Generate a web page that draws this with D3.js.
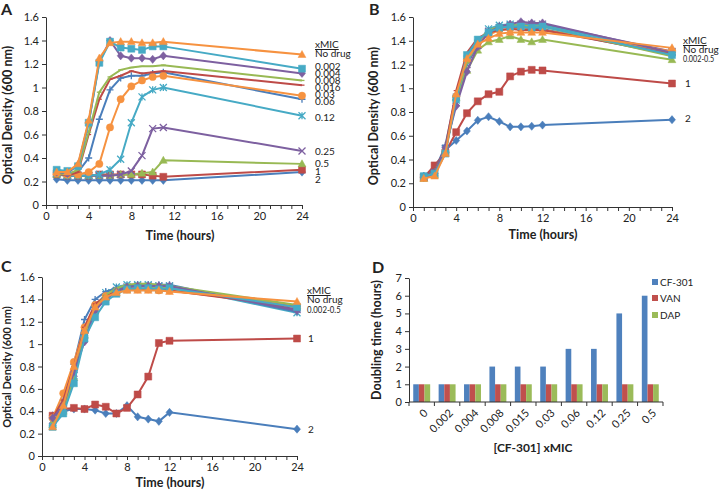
<!DOCTYPE html>
<html><head><meta charset="utf-8">
<script src="https://cdn.jsdelivr.net/npm/d3@7"></script>
<style>
body{margin:0;background:#fff}
svg{display:block}
text{font-family:Lato,"Open Sans",sans-serif;fill:#222}
</style>
</head><body>
<svg id="c" width="720" height="490"></svg>
<script>
// ---------------- DATA ----------------
const seriesLabels = ["No drug","0.002","0.004","0.008","0.016","0.03","0.06","0.12","0.25","0.5","1","2"];
const timesA = [1,2,3,4,5,6,7,8,9,10,11,24];
const timesBC = [1,2,3,4,5,6,7,8,9,10,11,12,24];
const xTickValues = [0,4,8,12,16,20,24];
const odTickValues = [0,0.2,0.4,0.6,0.8,1,1.2,1.4,1.6];

// Panel A: optical density per series (same order as seriesLabels)
const odA = [
  [0.28,0.28,0.35,0.72,1.25,1.38,1.39,1.39,1.38,1.38,1.39,1.28],
  [0.30,0.29,0.33,0.70,1.21,1.39,1.34,1.33,1.32,1.35,1.35,1.16],
  [0.28,0.27,0.34,0.70,1.22,1.40,1.27,1.25,1.25,1.24,1.27,1.12],
  [0.27,0.26,0.30,0.62,0.96,1.09,1.15,1.17,1.18,1.18,1.19,1.06],
  [0.27,0.25,0.28,0.60,0.90,1.07,1.10,1.14,1.12,1.13,1.14,1.02],
  [0.27,0.26,0.26,0.28,0.35,0.66,0.90,1.01,1.06,1.09,1.10,0.93],
  [0.27,0.26,0.28,0.40,0.73,0.98,1.08,1.10,1.10,1.12,1.13,0.90],
  [0.27,0.25,0.25,0.25,0.26,0.30,0.39,0.70,0.92,0.98,1.00,0.76],
  [0.27,0.25,0.25,0.25,0.25,0.25,0.26,0.29,0.42,0.65,0.66,0.46],
  [0.26,0.25,0.25,0.25,0.25,0.25,0.26,0.26,0.27,0.28,0.38,0.35],
  [0.26,0.25,0.25,0.25,0.26,0.26,0.26,0.26,0.26,0.25,0.24,0.30],
  [0.22,0.21,0.21,0.21,0.21,0.21,0.21,0.21,0.21,0.21,0.21,0.28]
];
// Panel B
const odB = [
  [0.24,0.26,0.45,0.95,1.25,1.37,1.42,1.46,1.47,1.47,1.47,1.47,1.34],
  [0.26,0.28,0.45,0.91,1.28,1.41,1.47,1.51,1.52,1.52,1.51,1.52,1.28],
  [0.25,0.28,0.50,0.85,1.14,1.35,1.47,1.52,1.54,1.56,1.55,1.55,1.30],
  [0.25,0.29,0.48,0.90,1.22,1.39,1.49,1.52,1.53,1.53,1.52,1.52,1.27],
  [0.25,0.30,0.50,0.98,1.30,1.42,1.47,1.49,1.50,1.49,1.49,1.49,1.29],
  [0.25,0.28,0.46,0.93,1.24,1.38,1.45,1.49,1.50,1.50,1.49,1.49,1.31],
  [0.26,0.30,0.52,0.95,1.27,1.40,1.48,1.51,1.52,1.51,1.50,1.50,1.28],
  [0.25,0.28,0.48,0.90,1.22,1.38,1.50,1.53,1.54,1.53,1.53,1.53,1.30],
  [0.25,0.29,0.49,0.88,1.20,1.36,1.48,1.51,1.53,1.54,1.54,1.54,1.31],
  [0.24,0.27,0.48,0.92,1.15,1.32,1.39,1.41,1.44,1.41,1.39,1.41,1.24],
  [0.25,0.35,0.46,0.63,0.79,0.89,0.95,0.97,1.10,1.14,1.155,1.15,1.04],
  [0.26,0.32,0.48,0.56,0.64,0.73,0.76,0.72,0.675,0.675,0.68,0.69,0.735]
];
// Panel C
const odC = [
  [0.26,0.45,0.80,1.12,1.33,1.42,1.46,1.48,1.48,1.48,1.48,1.47,1.38],
  [0.26,0.38,0.65,1.05,1.24,1.38,1.45,1.49,1.50,1.50,1.49,1.50,1.33],
  [0.34,0.45,0.75,1.02,1.30,1.40,1.47,1.51,1.52,1.52,1.52,1.52,1.30],
  [0.30,0.42,0.70,1.10,1.32,1.44,1.50,1.53,1.54,1.54,1.53,1.52,1.35],
  [0.34,0.50,0.80,1.15,1.36,1.43,1.47,1.49,1.50,1.49,1.49,1.48,1.33],
  [0.34,0.56,0.84,1.15,1.35,1.43,1.47,1.49,1.49,1.49,1.48,1.48,1.34],
  [0.34,0.50,0.82,1.22,1.40,1.47,1.50,1.52,1.53,1.53,1.53,1.53,1.29],
  [0.30,0.42,0.72,1.10,1.32,1.46,1.51,1.53,1.53,1.53,1.52,1.52,1.28],
  [0.32,0.44,0.74,1.08,1.30,1.42,1.48,1.51,1.52,1.52,1.52,1.52,1.31],
  [0.28,0.40,0.70,1.08,1.30,1.42,1.48,1.51,1.52,1.51,1.51,1.50,1.34],
  [0.36,0.42,0.43,0.42,0.46,0.44,0.38,0.43,0.55,0.71,1.01,1.03,1.05],
  [0.36,0.40,0.42,0.42,0.41,0.38,0.38,0.45,0.35,0.33,0.31,0.39,0.24]
];
// Panel D
const doublingCats = ["0","0.002","0.004","0.008","0.015","0.03","0.06","0.12","0.25","0.5"];
const barSeries = ["CF-301","VAN","DAP"];
const cf301 = [1,1,1,2,2,2,3,3,5,6];
const van = [1,1,1,1,1,1,1,1,1,1];
const dap = [1,1,1,1,1,1,1,1,1,1];
const doublingTicks = [0,1,2,3,4,5,6,7];

// ---------------- STYLE ----------------
const C = {blue:"#4A7EBB",red:"#BE4B48",green:"#98B954",purple:"#7D60A0",aqua:"#46AAC5",orange:"#F69240"};
const seriesColor = [C.orange,C.aqua,C.purple,C.green,C.red,C.orange,C.blue,C.aqua,C.purple,C.green,C.red,C.blue];
const seriesMarker = ["triangle","square","diamond","dash","dash","circle","plus","asterisk","x","triangle","square","diamond"];
const drawOrder = [11,10,9,8,7,6,5,4,3,2,1,0];
const tickFont = "11px", legendFont = "10px";

const svg = d3.select("#c");

function markerPath(t){
  const r=3.5;
  switch(t){
    case "triangle": return `M0,${-r-0.6}L${r+0.4},${r-0.6}L${-r-0.4},${r-0.6}Z`;
    case "square": return `M${-r},${-r}H${r}V${r}H${-r}Z`;
    case "diamond": return `M0,${-r-0.6}L${r},0L0,${r+0.6}L${-r},0Z`;
    case "circle": return d3.symbol(d3.symbolCircle,42)();
    case "plus": return `M${-r},0H${r}M0,${-r}V${r}`;
    case "x": return `M${-r},${-r}L${r},${r}M${-r},${r}L${r},${-r}`;
    case "asterisk": return `M${-r},${-r}L${r},${r}M${-r},${r}L${r},${-r}M0,${-r}V${r}`;
    case "dash": return `M-2.5,0H2.5`;
  }
}
const filled = t => ["triangle","square","diamond","circle"].includes(t);

function linePanel(o){
  const g = svg.append("g");
  const x = d3.scaleLinear().domain([0,24]).range([o.x0,o.x1]);
  const y = d3.scaleLinear().domain([0,1.6]).range([o.y0,o.y1]);
  const xa = g.append("g").attr("transform",`translate(0,${o.y0})`)
    .call(d3.axisBottom(x).tickValues(d3.range(0,25)).tickSize(4).tickSizeOuter(0)
      .tickFormat(d => xTickValues.includes(d) ? d : ""));
  const ya = g.append("g").attr("transform",`translate(${o.x0},0)`)
    .call(d3.axisLeft(y).tickValues(odTickValues).tickSize(4).tickSizeOuter(0)
      .tickFormat(d => String(+d.toFixed(1))));
  [xa,ya].forEach(a=>{
    a.selectAll("path,line").attr("stroke","#333");
    a.selectAll("text").style("font-size",tickFont).attr("fill","#222");
  });
  const line = d3.line().x((d,i)=>x(o.times[i])).y(d=>y(d));
  drawOrder.forEach(si=>{
    const vals=o.data[si], col=seriesColor[si], mk=seriesMarker[si];
    g.append("path").attr("d",line(vals)).attr("fill","none").attr("stroke",col).attr("stroke-width",2);
    g.selectAll(null).data(vals).enter().append("path")
      .attr("transform",(d,i)=>`translate(${x(o.times[i])},${y(d)})`)
      .attr("d",markerPath(mk))
      .attr("fill",filled(mk)?col:"none")
      .attr("stroke",col).attr("stroke-width",filled(mk)?0.5:1.3);
  });
  // titles
  g.append("text").attr("x",o.xtx).attr("y",o.xty).attr("text-anchor","middle")
    .style("font-weight","bold").style("font-size","12.5px").text("Time (hours)");
  g.append("text").attr("transform",`translate(${o.ytx},${o.yty}) rotate(-90)`).attr("text-anchor","middle")
    .style("font-weight","bold").style("font-size",o.ytfs).text("Optical Density (600 nm)");
  g.append("text").attr("x",o.lx).attr("y",o.ly).style("font-weight","bold").style("font-size","16px").text(o.letter);
  // legend labels (optional horizontal squeeze factor l[4])
  o.legend.forEach(l=>{
    const sx = l[4] || 1;
    const t=g.append("text").attr("transform",`translate(${l[0]},${l[1]}) scale(${sx},1)`)
      .style("font-size",legendFont).text(l[2]);
    if(l[3]) t.style("text-decoration","underline");
  });
}

linePanel({x0:46,x1:302,y0:205,y1:17,times:timesA,data:odA,
  xtx:180,xty:240,ytx:12,yty:115,ytfs:"12.5px",lx:1,ly:15,letter:"A",
  legend:[[315,48,"xMIC",true],[315,57,"No drug"],[315,70,seriesLabels[1]],[315,77,seriesLabels[2]],
    [315,84,seriesLabels[3]],[315,91,seriesLabels[4]],[315,98,seriesLabels[5]],[315,105,seriesLabels[6]],
    [315,121,seriesLabels[7]],[315,155,seriesLabels[8]],[315,167,seriesLabels[9]],[315,175,seriesLabels[10]],
    [315,183,seriesLabels[11]]]});
linePanel({x0:413,x1:672,y0:207,y1:17,times:timesBC,data:odB,
  xtx:543,xty:239,ytx:378,yty:116,ytfs:"12.5px",lx:369,ly:15,letter:"B",
  legend:[[683,44,"xMIC",true],[683,53,"No drug"],[683,62,"0.002-0.5",false,0.72],[685,87,"1"],[685,122,"2"]]});
linePanel({x0:42,x1:297,y0:456,y1:277,times:timesBC,data:odC,
  xtx:170,xty:487,ytx:11,yty:367,ytfs:"11px",lx:1,ly:272,letter:"C",
  legend:[[307,294,"xMIC",true],[307,303,"No drug"],[307,313,"0.002-0.5",false,0.78],[308,342,"1"],[308,433,"2"]]});

// ---------------- Panel D ----------------
(function(){
  const g = svg.append("g");
  const x0=409,x1=663,y0=402,y1=278;
  const x = d3.scaleBand().domain(doublingCats).range([x0,x1]).paddingInner(0.333).paddingOuter(0.1667);
  const xs = d3.scaleBand().domain(barSeries).range([0,x.bandwidth()]);
  const y = d3.scaleLinear().domain([0,7]).range([y0,y1]);
  const barCols = ["#4F81BD","#C0504D","#9BBB59"];
  const vals = [cf301,van,dap];
  doublingCats.forEach((c,ci)=>{
    barSeries.forEach((s,si)=>{
      g.append("rect").attr("x",x(c)+xs(s)).attr("width",xs.bandwidth())
        .attr("y",y(vals[si][ci])).attr("height",y(0)-y(vals[si][ci])).attr("fill",barCols[si]);
    });
  });
  const ya = g.append("g").attr("transform",`translate(${x0},0)`)
    .call(d3.axisLeft(y).tickValues(doublingTicks).tickSize(4).tickSizeOuter(0).tickFormat(d3.format("d")));
  ya.selectAll("path,line").attr("stroke","#333");
  ya.selectAll("text").style("font-size",tickFont).attr("fill","#222");
  const step = x.step();
  const xa = g.append("g");
  xa.append("line").attr("x1",x0).attr("x2",x1).attr("y1",y0).attr("y2",y0).attr("stroke","#333");
  d3.range(doublingCats.length+1).forEach(i=>{
    const px = x0+i*step;
    xa.append("line").attr("x1",px).attr("x2",px).attr("y1",y0).attr("y2",y0+4).attr("stroke","#333");
  });
  doublingCats.forEach(c=>{
    const cx = x(c)+x.bandwidth()/2;
    xa.append("text").attr("transform",`translate(${cx+4},${y0+9}) rotate(-45)`)
      .attr("text-anchor","end").attr("dy","0.35em").style("font-size",tickFont).text(c);
  });
  g.append("text").attr("x",533).attr("y",452).attr("text-anchor","middle")
    .style("font-weight","bold").style("font-size","12px").text("[CF-301] xMIC");
  g.append("text").attr("transform","translate(381,340) rotate(-90)").attr("text-anchor","middle")
    .style("font-weight","bold").style("font-size","12.5px").text("Doubling time (hours)");
  g.append("text").attr("x",372).attr("y",273).style("font-weight","bold").style("font-size","16px").text("D");
  barSeries.forEach((s,i)=>{
    const ly=[282,298,315][i];
    g.append("rect").attr("x",652).attr("y",ly-3).attr("width",6).attr("height",6).attr("fill",barCols[i]);
    g.append("text").attr("x",660).attr("y",ly+3.5).style("font-size",legendFont).text(s);
  });
})();
</script>
</body></html>
